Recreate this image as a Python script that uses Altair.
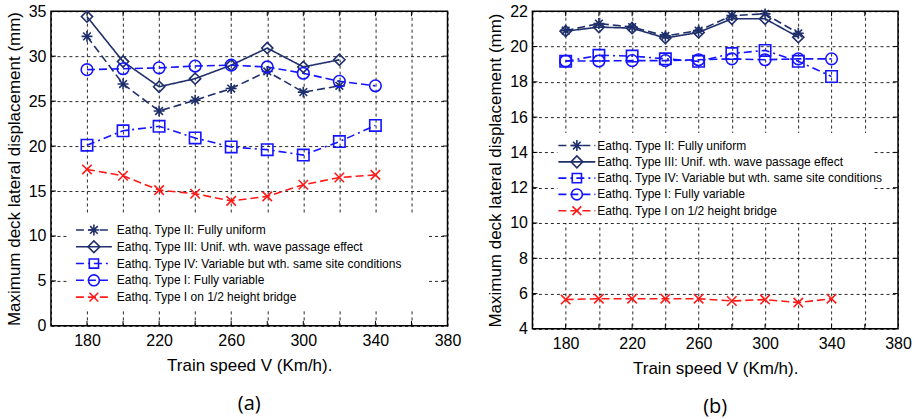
import altair as alt
import pandas as pd

speeds = [180, 200, 220, 240, 260, 280, 300, 320, 340]
series_names = [
    "Eathq. Type II: Fully uniform",
    "Eathq. Type III: Unif. wth. wave passage effect",
    "Eathq. Type IV: Variable but wth. same site conditions",
    "Eathq. Type I: Fully variable",
    "Eathq. Type I on 1/2 height bridge",
]

# Panel (a)
a_type2 = [32.2, 26.9, 23.9, 25.1, 26.4, 28.3, 26.0, 26.7]
a_type3 = [34.4, 29.4, 26.6, 27.5, 29.0, 30.9, 28.8, 29.6]
a_type4 = [20.1, 21.7, 22.2, 20.9, 19.9, 19.6, 19.0, 20.5, 22.3]
a_type1 = [28.5, 28.6, 28.7, 28.9, 29.0, 28.8, 28.1, 27.2, 26.7]
a_half = [17.4, 16.7, 15.1, 14.7, 13.9, 14.4, 15.7, 16.5, 16.8]

# Panel (b)
b_type2 = [20.9, 21.3, 21.1, 20.6, 20.9, 21.75, 21.85, 20.75]
b_type3 = [20.87, 21.1, 21.04, 20.48, 20.8, 21.57, 21.57, 20.53]
b_type4 = [19.16, 19.5, 19.46, 19.3, 19.16, 19.6, 19.78, 19.16, 18.3]
b_type1 = [19.18, 19.18, 19.2, 19.2, 19.25, 19.3, 19.25, 19.3, 19.3]
b_half = [5.66, 5.71, 5.71, 5.71, 5.71, 5.58, 5.66, 5.49, 5.71]

x_ticks = [160, 180, 200, 220, 240, 260, 280, 300, 320, 340, 360, 380]
a_yticks = [0, 5, 10, 15, 20, 25, 30, 35]
b_yticks = [4, 6, 8, 10, 12, 14, 16, 18, 20, 22]

NAVY = "#1f2f6b"
BLUE = "#1414ff"
RED = "#ff1a1a"
colors = [NAVY, NAVY, BLUE, BLUE, RED]
dashes = [[8, 4], [1, 0], [8, 4, 2, 4], [8, 4], [8, 4]]
ASTER = "M-1,0L1,0M0,-1L0,1M-0.7,-0.7L0.7,0.7M-0.7,0.7L0.7,-0.7"
XMARK = "M-0.8,-0.8L0.8,0.8M-0.8,0.8L0.8,-0.8"
shapes = [ASTER, "diamond", "square", "circle", XMARK]
sizes = [120, 140, 85, 120, 120]

FONT = "Liberation Sans"


def panel(vals, ydom, yticks, width, height, leg, title):
    rows = []
    for name, v in zip(series_names, vals):
        for s, val in zip(speeds, v):
            rows.append({"speed": s, "value": val, "series": name})
    df = pd.DataFrame(rows)

    X = alt.X(
        "speed:Q",
        scale=alt.Scale(domain=[160, 380], nice=False),
        axis=alt.Axis(
            values=x_ticks,
            labelExpr="datum.value % 40 == 20 ? datum.label : ''",
            grid=True, gridDash=[3, 3], gridColor="black", gridOpacity=0.85,
            tickSize=0, domain=False, labelFlush=False, labelPadding=7,
            title="Train speed V (Km/h).", titlePadding=9,
        ),
    )
    Y = alt.Y(
        "value:Q",
        scale=alt.Scale(domain=ydom, nice=False, zero=False),
        axis=alt.Axis(
            values=yticks, grid=True, gridDash=[3, 3], gridColor="black", gridOpacity=0.85,
            tickSize=0, domain=False, labelPadding=5, labelFlush=False,
            title="Maximum deck lateral displacement (mm)", titlePadding=5,
        ),
    )

    base = alt.Chart(df)
    lines = base.mark_line(strokeWidth=1.6).encode(
        x=X, y=Y,
        color=alt.Color("series:N", scale=alt.Scale(domain=series_names, range=colors), legend=None),
        strokeDash=alt.StrokeDash("series:N", scale=alt.Scale(domain=series_names, range=dashes), legend=None),
        detail="series:N",
    )
    points = base.mark_point(filled=False, strokeWidth=1.6, opacity=1).encode(
        x=X, y=Y,
        color=alt.Color("series:N", scale=alt.Scale(domain=series_names, range=colors), legend=None),
        shape=alt.Shape("series:N", scale=alt.Scale(domain=series_names, range=shapes), legend=None),
        size=alt.Size("series:N", scale=alt.Scale(domain=series_names, range=sizes), legend=None),
    )

    inner_x = pd.DataFrame({"speed": x_ticks[1:-1]})
    inner_y = pd.DataFrame({"value": yticks[1:-1]})
    tk = 5
    ticks = [
        alt.Chart(inner_x).mark_rule(color="black").encode(x=X, y=alt.value(0), y2=alt.value(tk)),
        alt.Chart(inner_x).mark_rule(color="black").encode(x=X, y=alt.value(height - tk), y2=alt.value(height)),
        alt.Chart(inner_y).mark_rule(color="black").encode(y=Y, x=alt.value(0), x2=alt.value(tk)),
        alt.Chart(inner_y).mark_rule(color="black").encode(y=Y, x=alt.value(width - tk), x2=alt.value(width)),
    ]

    dummy = pd.DataFrame({"k": [0]})
    bg = alt.Chart(dummy).mark_rect(color="white").encode(
        x=alt.value(leg["bx0"]), x2=alt.value(leg["bx1"]),
        y=alt.value(leg["by0"]), y2=alt.value(leg["by1"]),
    )
    legend_layers = []
    for i, name in enumerate(series_names):
        yy = leg["top"] + i * leg["step"]
        legend_layers.append(
            alt.Chart(dummy).mark_rule(color=colors[i], strokeDash=dashes[i], strokeWidth=1.6).encode(
                x=alt.value(leg["lx0"]), x2=alt.value(leg["lx1"]), y=alt.value(yy)
            )
        )
        legend_layers.append(
            alt.Chart(dummy).mark_point(shape=shapes[i], color=colors[i], filled=False,
                                        strokeWidth=1.6, opacity=1, size=sizes[i]).encode(
                x=alt.value((leg["lx0"] + leg["lx1"]) / 2), y=alt.value(yy)
            )
        )
        legend_layers.append(
            alt.Chart(dummy).mark_text(align="left", baseline="middle", font=FONT, fontSize=12,
                                       color="black").encode(
                x=alt.value(leg["tx"]), y=alt.value(yy), text=alt.value(name)
            )
        )

    return alt.layer(bg, *ticks, lines, points, *legend_layers).properties(
        width=width, height=height,
        title=alt.TitleParams(title, orient="bottom", font="Open Sans", fontSize=20,
                              fontWeight="normal", color="black", offset=20),
    )


leg_a = dict(bx0=18, bx1=378, by0=203, by1=298, lx0=25, lx1=61, tx=66, top=219, step=16.8)
leg_b = dict(bx0=25, bx1=340, by0=122, by1=212, lx0=26, lx1=63, tx=65, top=134.5, step=16.3)

pa = panel([a_type2, a_type3, a_type4, a_type1, a_half], [0, 35], a_yticks, 397, 315, leg_a, "(a)")
pb = panel([b_type2, b_type3, b_type4, b_type1, b_half], [4, 22], b_yticks, 366, 318, leg_b, "(b)")

chart = alt.hconcat(pa, pb, spacing=23).configure_view(
    stroke="black", strokeWidth=1.5
).configure_axis(
    labelFont=FONT, titleFont=FONT, labelFontSize=16, titleFontSize=17,
    labelColor="black", titleColor="black", titleFontWeight="normal",
).properties(
    padding={"left": 4, "top": 2, "right": 5, "bottom": 0},
    background="white",
)

chart.save("out.html", embed_options={"renderer": "svg", "actions": False})
